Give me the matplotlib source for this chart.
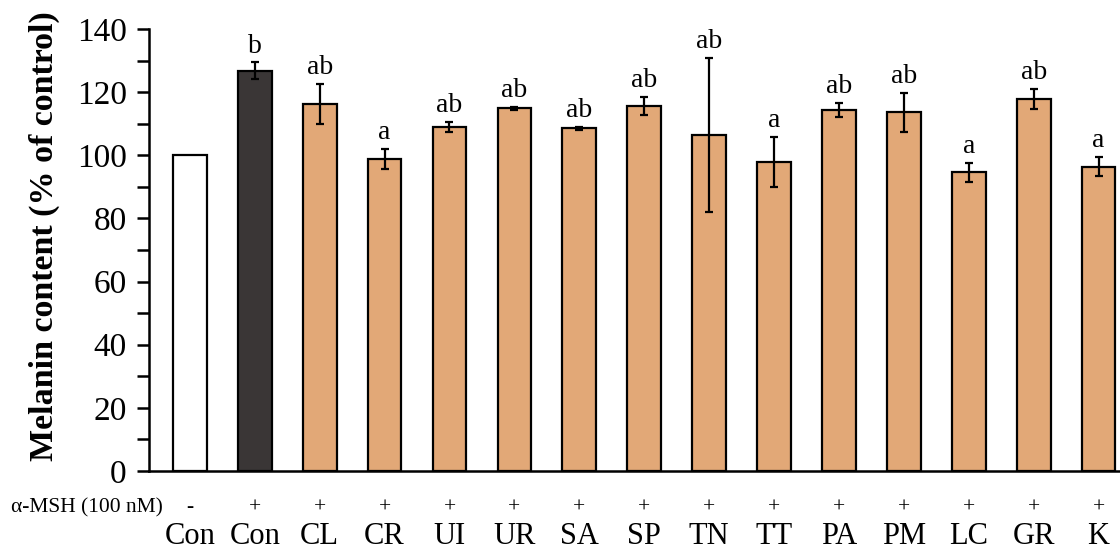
import numpy as np
import matplotlib.pyplot as plt
from matplotlib.ticker import MultipleLocator
import matplotlib.transforms as mtransforms

plt.rcParams['font.family'] = ['Liberation Serif', 'DejaVu Serif']

groups = ['Con', 'Con', 'CL', 'CR', 'UI', 'UR', 'SA', 'SP', 'TN', 'TT', 'PA', 'PM', 'LC', 'GR', 'K']
msh = ['-', '+', '+', '+', '+', '+', '+', '+', '+', '+', '+', '+', '+', '+', '+']
melanin = [100.0, 126.7, 116.3, 98.9, 109.0, 114.9, 108.5, 115.6, 106.5, 98.0, 114.3, 113.6, 94.6, 117.8, 96.4]
sem = [0.0, 2.7, 6.4, 3.1, 1.6, 0.5, 0.4, 2.9, 24.4, 7.9, 2.2, 6.1, 3.0, 3.1, 3.0]
letters = ['', 'b', 'ab', 'a', 'ab', 'ab', 'ab', 'ab', 'ab', 'a', 'ab', 'ab', 'a', 'ab', 'a']

WHITE = '#ffffff'
DARK = '#3a3636'
TAN = '#e2a877'
colors = [WHITE, DARK] + [TAN] * (len(groups) - 2)

fig = plt.figure(figsize=(11.2, 5.52), dpi=100)
ax = fig.add_axes([0.133, 0.1467, 0.8670, 0.8008])

x = np.arange(len(groups))
ax.bar(x, melanin, width=0.52, color=colors, edgecolor='black', linewidth=1.6, zorder=2)
err_idx = [i for i in x if sem[i] > 0]
ax.errorbar(x[err_idx], np.array(melanin)[err_idx], yerr=np.array(sem)[err_idx],
            fmt='none', ecolor='black', elinewidth=1.6, capsize=3.2, capthick=1.6, zorder=3)

for i, lab in enumerate(letters):
    if lab:
        ax.text(x[i], melanin[i] + sem[i] + 1.2, lab, ha='center', va='bottom', fontsize=20)

ax.set_xlim(-0.63, 14.33)
ax.set_ylim(0, 140)
ax.yaxis.set_major_locator(MultipleLocator(20))
ax.yaxis.set_minor_locator(MultipleLocator(10))
ax.tick_params(axis='y', which='major', direction='out', length=9, width=1.8, labelsize=24, pad=7)
ax.tick_params(axis='y', which='minor', direction='out', length=9, width=1.8)
ax.tick_params(axis='x', length=0, labelbottom=False)
for side in ('top', 'right'):
    ax.spines[side].set_visible(False)
ax.spines['left'].set_linewidth(1.8)
ax.spines['bottom'].set_linewidth(1.8)

ax.set_ylabel('Melanin content (% of control)', fontsize=24.5, fontweight='bold', labelpad=10)
ax.yaxis.set_label_coords(-0.092, 0.532)

# treatment rows under the axis
trans = mtransforms.blended_transform_factory(ax.transData, fig.transFigure)
for i in x:
    ax.text(x[i], 1 - 508 / 552, msh[i], transform=trans, ha='center', va='center', fontsize=15.5, clip_on=False)
    ax.text(x[i], 1 - 537 / 552, groups[i], transform=trans, ha='center', va='center', fontsize=22, clip_on=False)
fig.text(163 / 1120, 1 - 508 / 552, 'α-MSH (100 nM)', ha='right', va='center', fontsize=15.5)

fig.savefig('out.png', dpi=100)
